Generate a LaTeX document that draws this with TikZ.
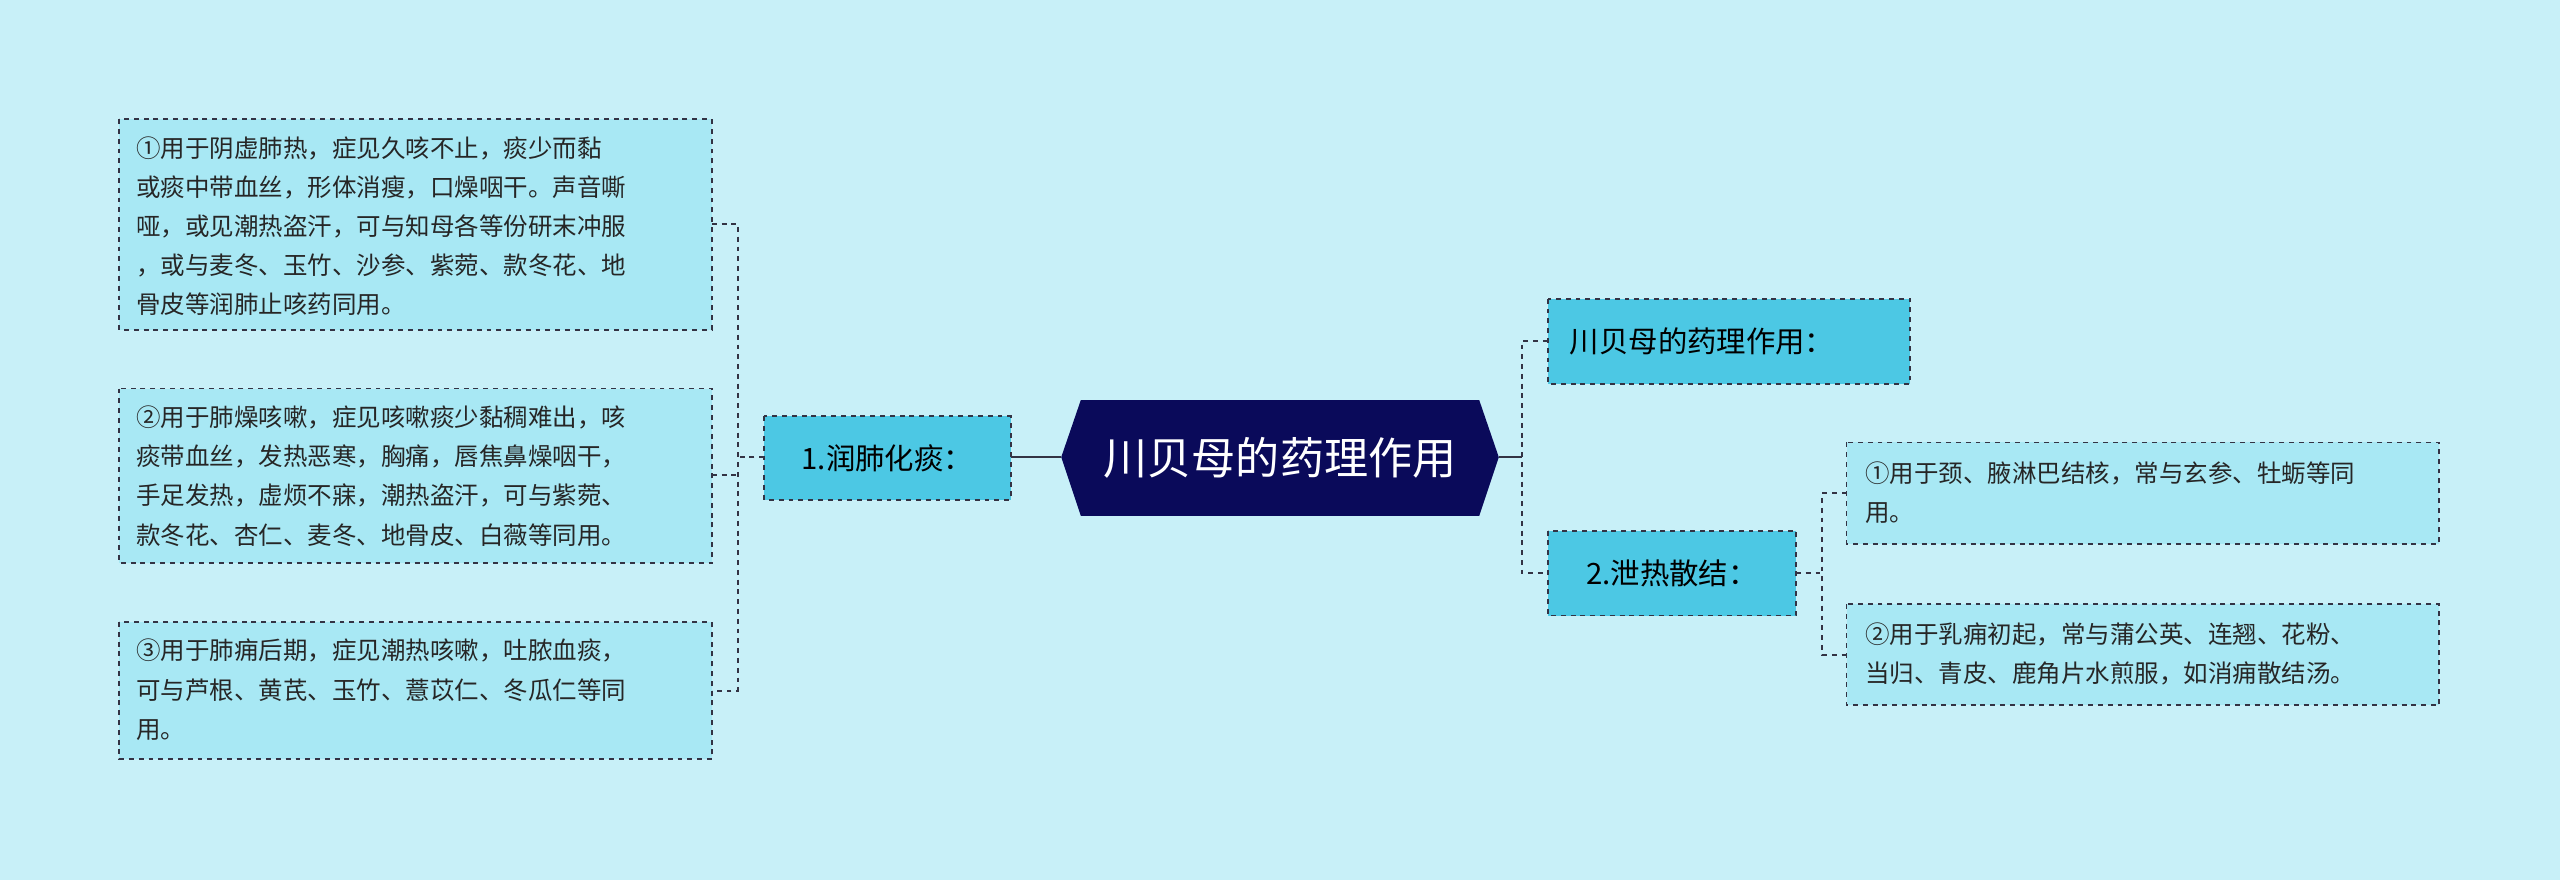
\documentclass[tikz,border=0pt]{standalone}
\usepackage{fontspec}
\setmainfont{Noto Sans CJK SC}
\usetikzlibrary{calc}
\definecolor{bg}{HTML}{C8F0F8}
\definecolor{navy}{HTML}{0A0A5A}
\definecolor{mid}{HTML}{4CC8E4}
\definecolor{leaf}{HTML}{A8E8F4}
\definecolor{ln}{HTML}{333344}
\begin{document}
\begin{tikzpicture}[x=1pt,y=-1pt,
  leafbox/.style={draw=ln,dashed,line width=1.1pt,fill=leaf,inner sep=0pt},
  midbox/.style={draw=ln,dashed,line width=1.1pt,fill=mid,inner sep=0pt},
  txt/.style={font=\fontsize{15}{24}\selectfont,align=left,anchor=north west,text=black!85},
  conn/.style={ln,dashed,line width=1.1pt}]
\fill[bg] (0,0) rectangle (1568,539);
\useasboundingbox (0,0) rectangle (1568,539);
% center
\fill[navy] (650,280)--(662,245)--(906,245)--(918,280)--(906,316)--(662,316)--cycle;
\node[text=white,font=\fontsize{27}{30}\selectfont] (c) at (784,280.5) {川贝母的药理作用};
\coordinate (cl) at (650,280); \coordinate (cr) at (918,280);
% mid nodes
\path[midbox] (468,255) rectangle (619,306); \node[font=\fontsize{18}{20}\selectfont] (n1) at (543.5,280.5) {1.润肺化痰：};
\coordinate (n1l) at (468,280); \coordinate (n1r) at (619,280);
\path[midbox] (948,183) rectangle (1170,235); \node[font=\fontsize{18}{20}\selectfont,anchor=west] (r1) at (958,209) {川贝母的药理作用：};
\coordinate (r1l) at (948,209);
\path[midbox] (948,325) rectangle (1100,377); \node[font=\fontsize{18}{20}\selectfont] (n2) at (1024,351) {2.泄热散结：};
\coordinate (n2l) at (948,351); \coordinate (n2r) at (1100,351);
% left leaves
\path[leafbox] (73,73) rectangle (436,202);
\node[txt] (a1) at (80,80) {①用于阴虚肺热，症见久咳不止，痰少而黏\\或痰中带血丝，形体消瘦，口燥咽干。声音嘶\\哑，或见潮热盗汗，可与知母各等份研末冲服\\，或与麦冬、玉竹、沙参、紫菀、款冬花、地\\骨皮等润肺止咳药同用。};
\path[leafbox] (73,238) rectangle (436,345);
\node[txt] (a2) at (80,245) {②用于肺燥咳嗽，症见咳嗽痰少黏稠难出，咳\\痰带血丝，发热恶寒，胸痛，唇焦鼻燥咽干，\\手足发热，虚烦不寐，潮热盗汗，可与紫菀、\\款冬花、杏仁、麦冬、地骨皮、白薇等同用。};
\path[leafbox] (73,381) rectangle (436,465);
\node[txt] (a3) at (80,388) {③用于肺痈后期，症见潮热咳嗽，吐脓血痰，\\可与芦根、黄芪、玉竹、薏苡仁、冬瓜仁等同\\用。};
% right leaves
\path[leafbox] (1131,271) rectangle (1494,333);
\node[txt] (b1) at (1139,279) {①用于颈、腋淋巴结核，常与玄参、牡蛎等同\\用。};
\path[leafbox] (1131,370) rectangle (1494,432);
\node[txt] (b2) at (1139,378) {②用于乳痈初起，常与蒲公英、连翘、花粉、\\当归、青皮、鹿角片水煎服，如消痈散结汤。};
% connectors
\draw[ln,line width=1.3pt] (n1r) -- (cl);
\draw[conn] (n1l) -- (452,280);
\draw[conn] (436,137) -- (452,137) -- (452,423) -- (436,423);
\draw[conn] (436,291) -- (452,291);
\draw[ln,line width=1.3pt] (cr) -- (932,280);
\draw[conn] (r1l) -- (932,209) -- (932,351) -- (n2l);
\draw[conn] (n2r) -- (1116,351);
\draw[conn] (1131,302) -- (1116,302) -- (1116,401) -- (1131,401);
\end{tikzpicture}
\end{document}
